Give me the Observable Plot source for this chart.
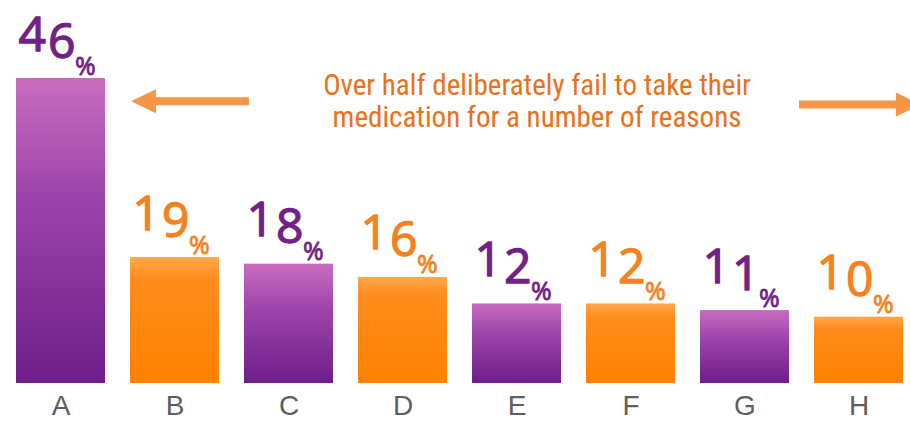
<!DOCTYPE html>
<html>
<head>
<meta charset="utf-8">
<script src="https://cdn.jsdelivr.net/npm/d3@7"></script>
<script src="https://cdn.jsdelivr.net/npm/@observablehq/plot@0.6"></script>
<style>
  html, body { margin: 0; padding: 0; background: #ffffff; }
  #chart svg { display: block; }
</style>
</head>
<body>
<div id="chart"></div>
<script>
// ---- Data ----
const categories = ["A", "B", "C", "D", "E", "F", "G", "H"];
const values = [46, 19, 18, 16, 12, 12, 11, 10];
const groups = ["purple", "orange", "purple", "orange", "purple", "orange", "purple", "orange"];
const annotationLines = ["Over half deliberately fail to take their", "medication for a number of reasons"];

const barFill = {purple: "url(#gradPurple)", orange: "url(#gradOrange)"};
const textFill = {purple: "#722287", orange: "#f5821f"};

const data = categories.map((c, i) => ({cat: c, value: values[i], group: groups[i]}));

const SVGNS = "http://www.w3.org/2000/svg";
function el(name, attrs) {
  const e = document.createElementNS(SVGNS, name);
  for (const k in attrs) e.setAttribute(k, attrs[k]);
  return e;
}

// gradient definitions
function defsMark() {
  const defs = el("defs", {});
  const gp = el("linearGradient", {id: "gradPurple", x1: 0, y1: 0, x2: 0, y2: 1});
  [["0%", "#c96cc0"], ["40%", "#9b43aa"], ["100%", "#6e1e8a"]].forEach(([o, c]) =>
    gp.appendChild(el("stop", {offset: o, "stop-color": c})));
  const go = el("linearGradient", {id: "gradOrange", x1: 0, y1: 0, x2: 0, y2: 1});
  [["0%", "#ffa84c"], ["18%", "#ff8c1c"], ["100%", "#ff8200"]].forEach(([o, c]) =>
    go.appendChild(el("stop", {offset: o, "stop-color": c})));
  defs.appendChild(gp);
  defs.appendChild(go);
  return defs;
}

// annotation arrows, placed from the scales
function arrowsMark(index, scales) {
  const sx = scales.x, sy = scales.y;
  const bw = typeof sx.bandwidth === "function" ? sx.bandwidth() : 89;
  const g = el("g", {fill: "#f79646"});
  function arrow(tail, tip, y) {
    const dir = Math.sign(tip - tail);
    const head = 25, half = 12, t = 4;
    const hb = tip - dir * head;
    const d = `M${tail},${y - t}L${hb},${y - t}L${hb},${y - half}L${tip},${y}L${hb},${y + half}L${hb},${y + t}L${tail},${y + t}Z`;
    g.appendChild(el("path", {d}));
  }
  const leftTip = sx("A") + bw + 26;
  arrow(leftTip + 118, leftTip, sy(42.5));
  const rightTail = sx("G") + bw + 10;
  arrow(rightTail, rightTail + 122, sy(42.0));
  return g;
}

const digitFont = "'Open Sans', Lato, sans-serif";
const labelStyle = d => textFill[d.group];

const chart = Plot.plot({
  width: 910,
  height: 421,
  marginTop: 78,
  marginBottom: 38,
  marginLeft: 9,
  marginRight: 0,
  x: {domain: categories, paddingInner: 0.22, paddingOuter: 0.05, axis: null},
  y: {domain: [0, 46], axis: null},
  color: {type: "identity"},
  style: {fontFamily: "'Liberation Sans', Arial, sans-serif", background: "#ffffff", overflow: "hidden"},
  marks: [
    defsMark,
    Plot.barY(data, {x: "cat", y: "value", fill: d => barFill[d.group]}),
    // first digit
    Plot.text(data, {
      x: "cat", y: "value", text: d => String(d.value)[0],
      textAnchor: "end", lineAnchor: "bottom", dx: -15, dy: -28,
      fontSize: 48, fontFamily: digitFont, fill: labelStyle, stroke: labelStyle, strokeWidth: 1.3
    }),
    // second digit
    Plot.text(data, {
      x: "cat", y: "value", text: d => String(d.value).slice(1),
      textAnchor: "start", lineAnchor: "bottom", dx: -13, dy: -21,
      fontSize: 48, fontFamily: digitFont, fill: labelStyle, stroke: labelStyle, strokeWidth: 1.3
    }),
    // percent sign
    Plot.text(data, {
      x: "cat", y: "value", text: d => "%",
      textAnchor: "start", lineAnchor: "bottom", dx: 14, dy: -4,
      fontSize: 25, fontFamily: digitFont, fill: labelStyle, stroke: labelStyle, strokeWidth: 0.8
    }),
    // category labels
    Plot.text(categories, {
      x: d => d, text: d => d, frameAnchor: "bottom", lineAnchor: "top", dy: 12,
      fontSize: 28, fill: "#5e5e5e"
    }),
    // annotation
    Plot.text([annotationLines.join("\n")], {
      frameAnchor: "top", lineAnchor: "top", dx: 77, dy: -7,
      fontSize: 29, lineHeight: 1.12, fill: "#e8711a",
      fontFamily: "'Liberation Sans Narrow', 'Arial Narrow', 'Roboto Condensed', sans-serif"
    }),
    arrowsMark
  ]
});

document.getElementById("chart").appendChild(chart);
</script>
</body>
</html>
